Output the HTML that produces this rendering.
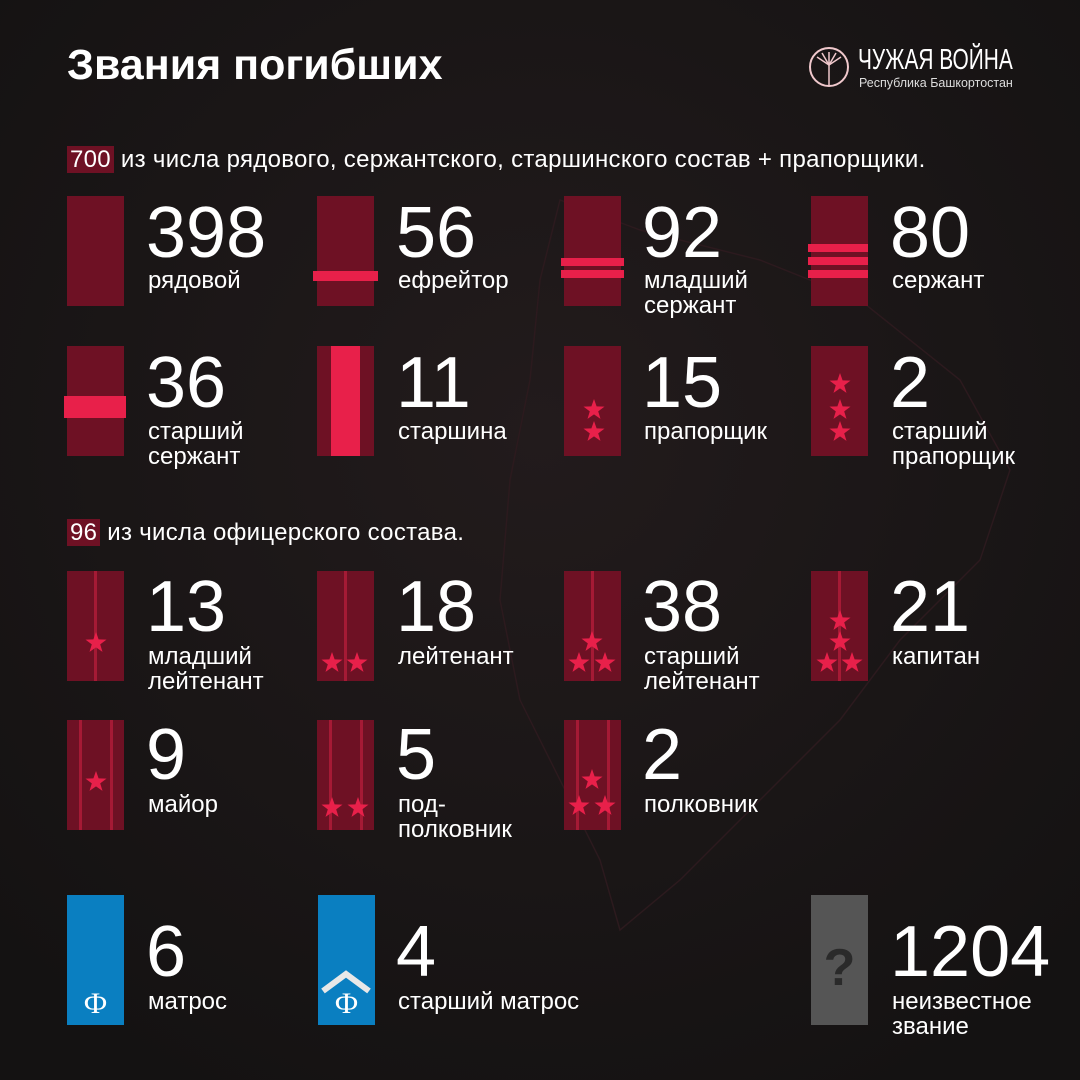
<!DOCTYPE html>
<html><head><meta charset="utf-8"><style>
body{margin:0;width:1080px;height:1080px;background:#1a1616;overflow:hidden;position:relative;font-family:"Liberation Sans",sans-serif;color:#fff}
.a{position:absolute;white-space:nowrap}
.n{font-size:72px;line-height:72px}
.l{font-size:24px;line-height:25px}
.h{position:absolute;left:67px;top:41px;font-size:43px;font-weight:bold}
.s{position:absolute;font-size:24px;line-height:28px;letter-spacing:0.3px}
.s b{font-weight:normal;background:#6e1124;padding:0 3px}
</style></head><body>
<svg width="1080" height="1080" style="position:absolute;left:0;top:0">
<defs>
<radialGradient id="bg" cx="50%" cy="40%" r="70%"><stop offset="0" stop-color="#221b1c"/><stop offset="1" stop-color="#141212"/></radialGradient>
<polygon id="st" fill="#e8204a" points="0,-11 2.6,-3.6 10.5,-3.4 4.2,1.4 6.5,8.9 0,4.4 -6.5,8.9 -4.2,1.4 -10.5,-3.4 -2.6,-3.6"/>
</defs>
<rect width="1080" height="1080" fill="url(#bg)"/>
<path d="M560,200 L640,230 L760,260 L860,300 L960,380 L1010,470 L980,560 L900,640 L840,720 L760,800 L680,880 L620,930 L600,860 L560,780 L520,700 L500,600 L510,480 L530,380 L540,280 Z" fill="none" stroke="#2c1a1e" stroke-width="1.5"/>
<g fill="#6e1124">
<rect x="67" y="196" width="57" height="110"/><rect x="317" y="196" width="57" height="110"/><rect x="564" y="196" width="57" height="110"/><rect x="811" y="196" width="57" height="110"/>
<rect x="67" y="346" width="57" height="110"/><rect x="317" y="346" width="57" height="110"/><rect x="564" y="346" width="57" height="110"/><rect x="811" y="346" width="57" height="110"/>
<rect x="67" y="571" width="57" height="110"/><rect x="317" y="571" width="57" height="110"/><rect x="564" y="571" width="57" height="110"/><rect x="811" y="571" width="57" height="110"/>
<rect x="67" y="720" width="57" height="110"/><rect x="317" y="720" width="57" height="110"/><rect x="564" y="720" width="57" height="110"/>
</g>
<g fill="#e8204a">
<rect x="313" y="271" width="65" height="10"/>
<rect x="561" y="258" width="63" height="8"/><rect x="561" y="270" width="63" height="8"/>
<rect x="808" y="244" width="60" height="8"/><rect x="808" y="257" width="60" height="8"/><rect x="808" y="270" width="60" height="8"/>
<rect x="64" y="396" width="62" height="22"/>
<rect x="331" y="346" width="29" height="110"/>
</g>
<g fill="#a51a35">
<rect x="94" y="571" width="3" height="110"/><rect x="344" y="571" width="3" height="110"/><rect x="591" y="571" width="3" height="110"/><rect x="838" y="571" width="3" height="110"/>
<rect x="79" y="720" width="3" height="110"/><rect x="110" y="720" width="3" height="110"/>
<rect x="329" y="720" width="3" height="110"/><rect x="360" y="720" width="3" height="110"/>
<rect x="576" y="720" width="3" height="110"/><rect x="607" y="720" width="3" height="110"/>
</g>
<use href="#st" x="594" y="410"/><use href="#st" x="594" y="432"/>
<use href="#st" x="840" y="384"/><use href="#st" x="840" y="410"/><use href="#st" x="840" y="432"/>
<use href="#st" x="96" y="643"/>
<use href="#st" x="332" y="663"/><use href="#st" x="357" y="663"/>
<use href="#st" x="592" y="642"/><use href="#st" x="579" y="663"/><use href="#st" x="605" y="663"/>
<use href="#st" x="840" y="621"/><use href="#st" x="840" y="642"/><use href="#st" x="827" y="663"/><use href="#st" x="852" y="663"/>
<use href="#st" x="96" y="782"/>
<use href="#st" x="332" y="808"/><use href="#st" x="358" y="808"/>
<use href="#st" x="592" y="780"/><use href="#st" x="579" y="806"/><use href="#st" x="605" y="806"/>
<rect x="67" y="895" width="57" height="130" fill="#0a7fc1"/>
<rect x="318" y="895" width="57" height="130" fill="#0a7fc1"/>
<polyline points="323,991 346,974 369,991" fill="none" stroke="#e8e8e8" stroke-width="6"/>
<text x="95.5" y="1013" font-family="Liberation Serif,serif" font-size="30" fill="#fff" text-anchor="middle">Ф</text>
<text x="346.5" y="1013" font-family="Liberation Serif,serif" font-size="30" fill="#fff" text-anchor="middle">Ф</text>
<rect x="811" y="895" width="57" height="130" fill="#555"/>
<text x="839.5" y="985" font-size="52" font-weight="bold" fill="#2a2a2a" text-anchor="middle" font-family="Liberation Sans,sans-serif">?</text>
<circle cx="829" cy="67" r="19" fill="none" stroke="#f0c8cc" stroke-width="2"/>
<g stroke="#f0c8cc" stroke-width="1.5"><line x1="829" y1="85" x2="829" y2="65"/><line x1="829" y1="65" x2="817" y2="57"/><line x1="829" y1="65" x2="841" y2="57"/><line x1="829" y1="65" x2="822" y2="53"/><line x1="829" y1="65" x2="836" y2="53"/><line x1="829" y1="65" x2="829" y2="52"/></g>
</svg>
<div class="h">Звания погибших</div>
<div class="a" style="left:858px;top:44px;font-size:29px;transform:scaleX(0.72);transform-origin:left">ЧУЖАЯ ВОЙНА</div>
<div class="a" style="left:859px;top:76px;font-size:12.5px;color:#ddd">Республика Башкортостан</div>
<div class="s" style="left:67px;top:146px"><b>700</b> из числа рядового, сержантского, старшинского состав + прапорщики.</div>
<div class="s" style="left:67px;top:519px"><b>96</b> из числа офицерского состава.</div>

<div class="a n" style="left:146px;top:197px">398</div><div class="a l" style="left:148px;top:268px">рядовой</div>
<div class="a n" style="left:396px;top:197px">56</div><div class="a l" style="left:398px;top:268px">ефрейтор</div>
<div class="a n" style="left:642px;top:197px">92</div><div class="a l" style="left:644px;top:268px">младший<br>сержант</div>
<div class="a n" style="left:890px;top:197px">80</div><div class="a l" style="left:892px;top:268px">сержант</div>

<div class="a n" style="left:146px;top:347px">36</div><div class="a l" style="left:148px;top:419px">старший<br>сержант</div>
<div class="a n" style="left:396px;top:347px">11</div><div class="a l" style="left:398px;top:419px">старшина</div>
<div class="a n" style="left:642px;top:347px">15</div><div class="a l" style="left:644px;top:419px">прапорщик</div>
<div class="a n" style="left:890px;top:347px">2</div><div class="a l" style="left:892px;top:419px">старший<br>прапорщик</div>

<div class="a n" style="left:146px;top:571px">13</div><div class="a l" style="left:148px;top:644px">младший<br>лейтенант</div>
<div class="a n" style="left:396px;top:571px">18</div><div class="a l" style="left:398px;top:644px">лейтенант</div>
<div class="a n" style="left:642px;top:571px">38</div><div class="a l" style="left:644px;top:644px">старший<br>лейтенант</div>
<div class="a n" style="left:890px;top:571px">21</div><div class="a l" style="left:892px;top:644px">капитан</div>

<div class="a n" style="left:146px;top:719px">9</div><div class="a l" style="left:148px;top:792px">майор</div>
<div class="a n" style="left:396px;top:719px">5</div><div class="a l" style="left:398px;top:792px">под-<br>полковник</div>
<div class="a n" style="left:642px;top:719px">2</div><div class="a l" style="left:644px;top:792px">полковник</div>

<div class="a n" style="left:146px;top:916px">6</div><div class="a l" style="left:148px;top:989px">матрос</div>
<div class="a n" style="left:396px;top:916px">4</div><div class="a l" style="left:398px;top:989px">старший матрос</div>
<div class="a n" style="left:890px;top:916px">1204</div><div class="a l" style="left:892px;top:989px">неизвестное<br>звание</div>
</body></html>
